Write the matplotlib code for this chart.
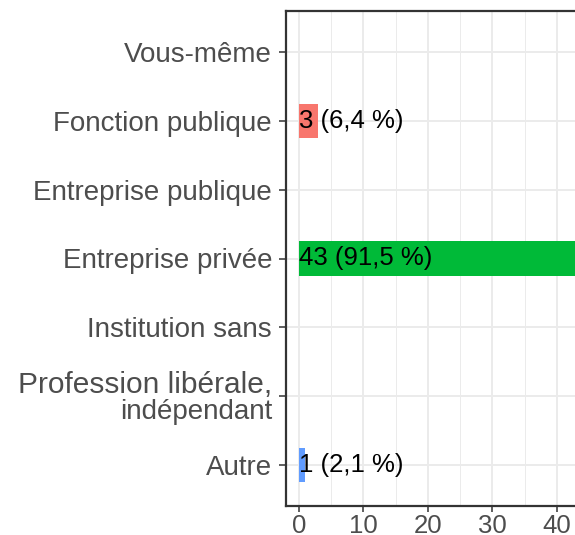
import matplotlib
matplotlib.use("Agg")
from matplotlib import pyplot as plt
import matplotlib.transforms as mtransforms

plt.rcParams['font.family'] = ['Liberation Sans', 'DejaVu Sans']

# Données
categories = ["Vous-même", "Fonction publique", "Entreprise publique",
              "Entreprise privée", "Institution sans",
              "Profession libérale,\nindépendant", "Autre"]
valeurs = [0, 3, 0, 43, 0, 0, 1]
etiquettes = ["", "3 (6,4 %)", "", "43 (91,5 %)", "", "", "1 (2,1 %)"]
couleurs = ["#F8766D", "#F8766D", "#F8766D", "#00BA38", "#00BA38", "#619CFF", "#619CFF"]
xticks = [0, 10, 20, 30, 40]

fig = plt.figure(figsize=(5.75, 5.35), dpi=100)
ax = fig.add_axes([286/575, 29/535, 304/575, 495/535])

pos = list(range(len(categories)))
for i in pos:
    if valeurs[i] > 0:
        ax.barh(i, valeurs[i], height=0.5, color=couleurs[i], zorder=2)
        ax.text(0, i, etiquettes[i], ha='left', va='center', fontsize=18.5,
                color='black', zorder=3)

# étiquettes de l'axe y (celle sur deux lignes est placée à la main)
ax.set_yticks(pos)
ax.set_yticklabels(["" if "\n" in c else c for c in categories],
                   fontsize=20, color='#4D4D4D', ha='right')
trans = mtransforms.blended_transform_factory(ax.transAxes, ax.transData)
for i, c in enumerate(categories):
    if "\n" in c:
        l1, l2 = c.split("\n")
        ax.annotate(l1, xy=(0, i), xycoords=trans, xytext=(-10, 2.2),
                    textcoords='offset points', ha='right', va='baseline',
                    fontsize=21.5, color='#4D4D4D', annotation_clip=False)
        ax.annotate(l2, xy=(0, i), xycoords=trans, xytext=(-10, -16.6),
                    textcoords='offset points', ha='right', va='baseline',
                    fontsize=20, color='#4D4D4D', annotation_clip=False)

ax.set_ylim(len(categories) - 0.4, -0.6)
ax.set_xlim(-2.0, 45.15)
ax.set_xticks(xticks)
ax.set_xticklabels([str(t) for t in xticks], fontsize=18.5, color='#4D4D4D')
ax.set_xticks([5, 15, 25, 35, 45], minor=True)

ax.grid(True, which='major', color='#EBEBEB', linewidth=1.4, zorder=0)
ax.grid(True, which='minor', axis='x', color='#EBEBEB', linewidth=0.7, zorder=0)
ax.set_axisbelow(True)
ax.tick_params(axis='y', which='major', length=5, width=1.1, color='#333333', pad=5)
ax.tick_params(axis='x', which='major', length=4, width=1.1, color='#333333', pad=1.5)
ax.tick_params(axis='x', which='minor', length=0)
for s in ax.spines.values():
    s.set_color('#333333')
    s.set_linewidth(1.6)

fig.savefig("out.png", dpi=100)
